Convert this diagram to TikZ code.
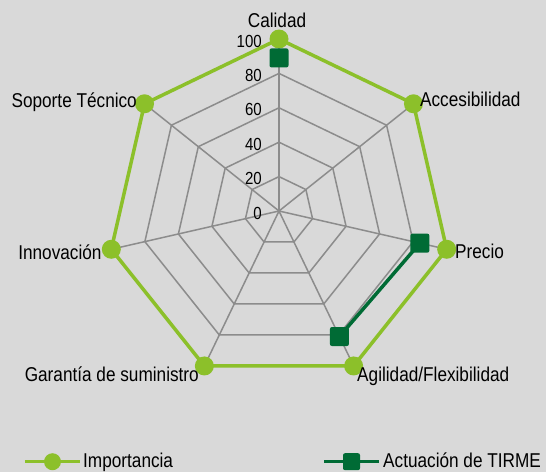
\documentclass[tikz,border=0pt]{standalone}
\usepackage{fontspec}
\setmainfont{Liberation Sans}[FakeStretch=0.86]
\definecolor{lima}{HTML}{8CC02A}
\definecolor{pino}{HTML}{006B35}
\definecolor{fondo}{HTML}{D9D9D9}
\definecolor{gris}{HTML}{8C8C8C}
\tikzset{
  rejilla/.style={draw=gris, line width=1.5pt},
  serieA/.style={draw=lima, line width=3.5pt, line join=round},
  serieB/.style={draw=pino, line width=3.5pt},
  punto/.style={circle, fill=lima, inner sep=0pt, minimum size=19pt},
  cuadro/.style={rectangle, rounded corners=2pt, fill=pino, inner sep=0pt, minimum size=19pt},
  etiqueta/.style={font=\fontsize{20}{24}\selectfont, inner sep=0pt},
  escala/.style={font=\fontsize{17.5}{20}\selectfont, inner sep=0pt, anchor=east},
}
\begin{document}
\begin{tikzpicture}[x=1pt,y=1pt]
  \fill[fondo] (-279,-261) rectangle (267,211);
  \useasboundingbox (-279,-261) rectangle (267,211);
  % ejes y anillos
  \foreach \i in {1,...,7}
    \coordinate (e\i) at ({90-(\i-1)*360/7}:172);
  \foreach \i in {1,...,7}
    \draw[rejilla] (0,0) -- (e\i);
  \foreach \r in {20,40,60,80,100}
    \draw[rejilla] ({90}:{1.72*\r}) \foreach \i in {1,...,6} { -- ({90-\i*360/7}:{1.72*\r}) } -- cycle;
  \foreach \v in {0,20,...,100}
    \node[escala] (t\v) at (-17,{1.72*\v-2}) {\v};
  % Importancia
  \draw[serieA] (e1) -- (e2) -- (e3) -- (e4) -- (e5) -- (e6) -- (e7) -- cycle;
  \foreach \i in {1,...,7}
    \node[punto] (i\i) at (e\i) {};
  % Actuacion de TIRME
  \coordinate (a1) at (90:{0.89*172});
  \coordinate (a3) at ({90-2*360/7}:{0.84*172});
  \coordinate (a4) at ({90-3*360/7}:{0.81*172});
  \draw[serieB] (a3) -- (a4);
  \node[cuadro] (m1) at (a1) {};
  \node[cuadro] (m3) at (a3) {};
  \node[cuadro] (m4) at (a4) {};
  % rotulos
  \node[etiqueta, anchor=base, xshift=-2pt, yshift=12pt] (cal) at (e1) {Calidad};
  \node[etiqueta, anchor=base west, xshift=6.5pt, yshift=-2.9pt] (acc) at (e2) {Accesibilidad};
  \node[etiqueta, anchor=base west, xshift=8.3pt, yshift=-9pt] (pre) at (e3) {Precio};
  \node[etiqueta, anchor=base west, xshift=3.4pt, yshift=-15.7pt] (agi) at (e4) {Agilidad/Flexibilidad};
  \node[etiqueta, anchor=base east, xshift=-5.4pt, yshift=-15.7pt] (gar) at (e5) {Garantía de suministro};
  \node[etiqueta, anchor=base east, xshift=-9.6pt, yshift=-10.7pt] (inn) at (e6) {Innovación};
  \node[etiqueta, anchor=base east, xshift=-7.5pt, yshift=-3.5pt] (sop) at (e7) {Soporte Técnico};
  % leyenda
  \coordinate (li0) at (-254,-250.7);
  \coordinate (li1) at (-199,-250.7);
  \draw[serieA] (li0) -- (li1);
  \node[punto, minimum size=17pt] (mi) at (-226.5,-250.7) {};
  \node[etiqueta, anchor=base west] (ti) at (-196,-256.3) {Importancia};
  \coordinate (la0) at (45,-250.7);
  \coordinate (la1) at (100,-250.7);
  \draw[serieB] (la0) -- (la1);
  \node[cuadro, minimum size=17pt] (ma) at (72.5,-250.7) {};
  \node[etiqueta, anchor=base west] (ta) at (104,-256.3) {Actuación de TIRME};
\end{tikzpicture}
\end{document}
